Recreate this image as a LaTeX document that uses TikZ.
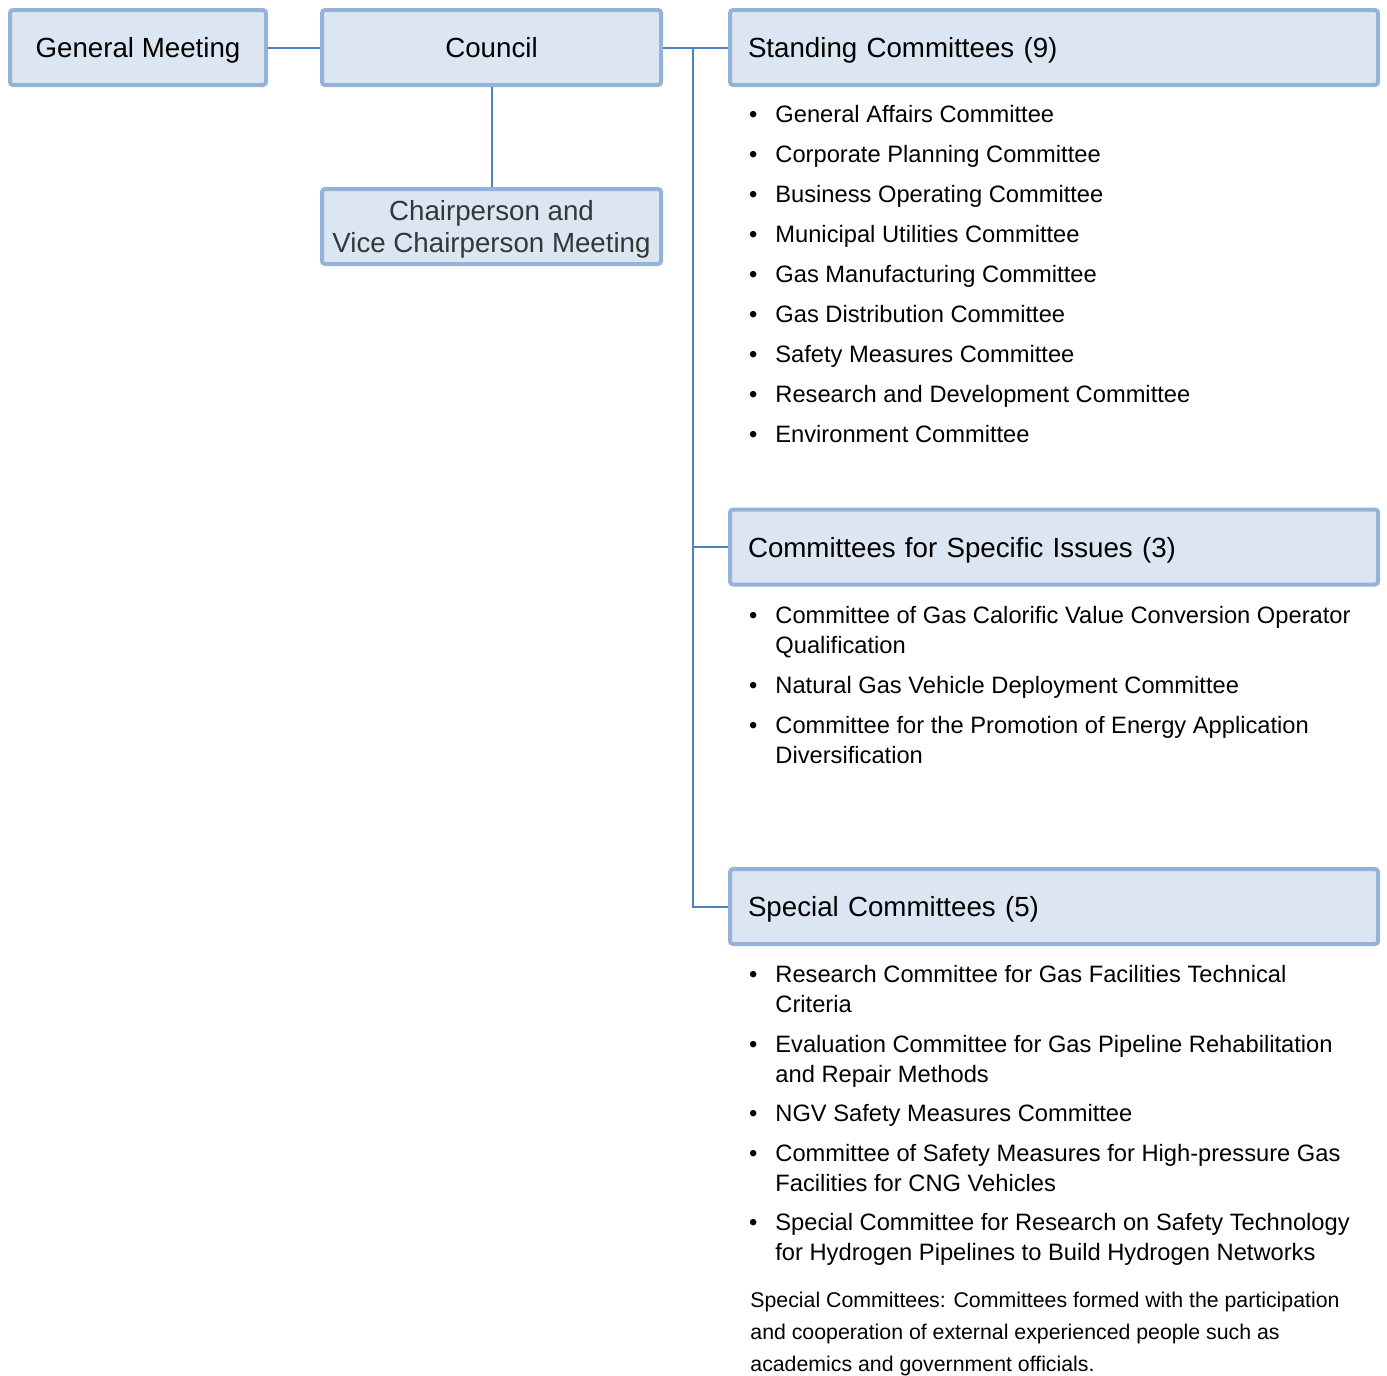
\documentclass[tikz,border=0pt]{standalone}
\usepackage{fontspec}
\setmainfont{Liberation Sans}
\definecolor{boxfill}{HTML}{DCE6F2}
\definecolor{boxline}{HTML}{95B3D7}
\definecolor{linkc}{HTML}{4F81BD}
\definecolor{chairtext}{HTML}{363636}
\newcommand{\itembul}{\makebox[0pt][r]{\textbullet\hspace{9pt}}}
\begin{document}
\begin{tikzpicture}[x=0.5pt,y=-0.5pt,
  box/.style={draw=boxline, fill=boxfill, line width=2pt, rounded corners=1.5pt,
    inner sep=0pt, minimum height=37.5pt, text depth=0pt,
    font=\fontsize{13.85pt}{16pt}\selectfont},
  onebox/.style={box, text height=10pt},
  headbox/.style={onebox, minimum width=324pt, text width=306pt, align=left},
  link/.style={draw=linkc, line width=1pt},
  item/.style={anchor=base west, inner sep=0pt, align=left,
    font=\fontsize{11.85pt}{15pt}\selectfont},
  note/.style={anchor=base west, inner sep=0pt, align=left,
    font=\fontsize{10.65pt}{16pt}\selectfont}]
\useasboundingbox (0,0) rectangle (1387,1376);

% boxes
\node[onebox, minimum width=128pt] (gm) at (138,47.5) {General Meeting};
\node[onebox, minimum width=169.5pt] (council) at (491.5,47.5) {Council};
\node[box, minimum width=169.5pt, align=center, text=chairtext] (chair) at (491.5,226.5)
  {Chairperson and\\Vice Chairperson Meeting};
\node[headbox] (standing) at (1054,47.5) {Standing Committees (9)};
\node[headbox] (specific) at (1054,547) {Committees for Specific Issues (3)};
\node[headbox] (special) at (1054,906.5) {Special Committees (5)};

% connectors
\coordinate (trunk) at (693,47.5);
\draw[link] (gm.east) -- (council.west);
\draw[link] (council.east) -- (standing.west);
\draw[link] (council.south) -- (chair.north);
\draw[link] (trunk) |- (special.west);
\draw[link] (trunk |- specific.west) -- (specific.west);

% standing committees (base = last line)
\node[item] (st1) at (775,122) {\itembul General Affairs Committee};
\node[item] (st2) at (775,162) {\itembul Corporate Planning Committee};
\node[item] (st3) at (775,202) {\itembul Business Operating Committee};
\node[item] (st4) at (775,242) {\itembul Municipal Utilities Committee};
\node[item] (st5) at (775,282) {\itembul Gas Manufacturing Committee};
\node[item] (st6) at (775,322) {\itembul Gas Distribution Committee};
\node[item] (st7) at (775,362) {\itembul Safety Measures Committee};
\node[item] (st8) at (775,402) {\itembul Research and Development Committee};
\node[item] (st9) at (775,442) {\itembul Environment Committee};

% committees for specific issues
\node[item] (sp1) at (775,653) {\itembul Committee of Gas Calorific Value Conversion Operator\\Qualification};
\node[item] (sp2) at (775,693) {\itembul Natural Gas Vehicle Deployment Committee};
\node[item] (sp3) at (775,763) {\itembul Committee for the Promotion of Energy Application\\Diversification};

% special committees
\node[item] (sc1) at (775,1012) {\itembul Research Committee for Gas Facilities Technical\\Criteria};
\node[item] (sc2) at (775,1082) {\itembul Evaluation Committee for Gas Pipeline Rehabilitation\\and Repair Methods};
\node[item] (sc3) at (775,1121) {\itembul NGV Safety Measures Committee};
\node[item] (sc4) at (775,1191) {\itembul Committee of Safety Measures for High-pressure Gas\\Facilities for CNG Vehicles};
\node[item] (sc5) at (775,1260) {\itembul Special Committee for Research on Safety Technology\\for Hydrogen Pipelines to Build Hydrogen Networks};

% note
\node[note] (nt) at (750,1371.5) {Special Committees: Committees formed with the participation\\and cooperation of external experienced people such as\\academics and government officials.};
\end{tikzpicture}
\end{document}
